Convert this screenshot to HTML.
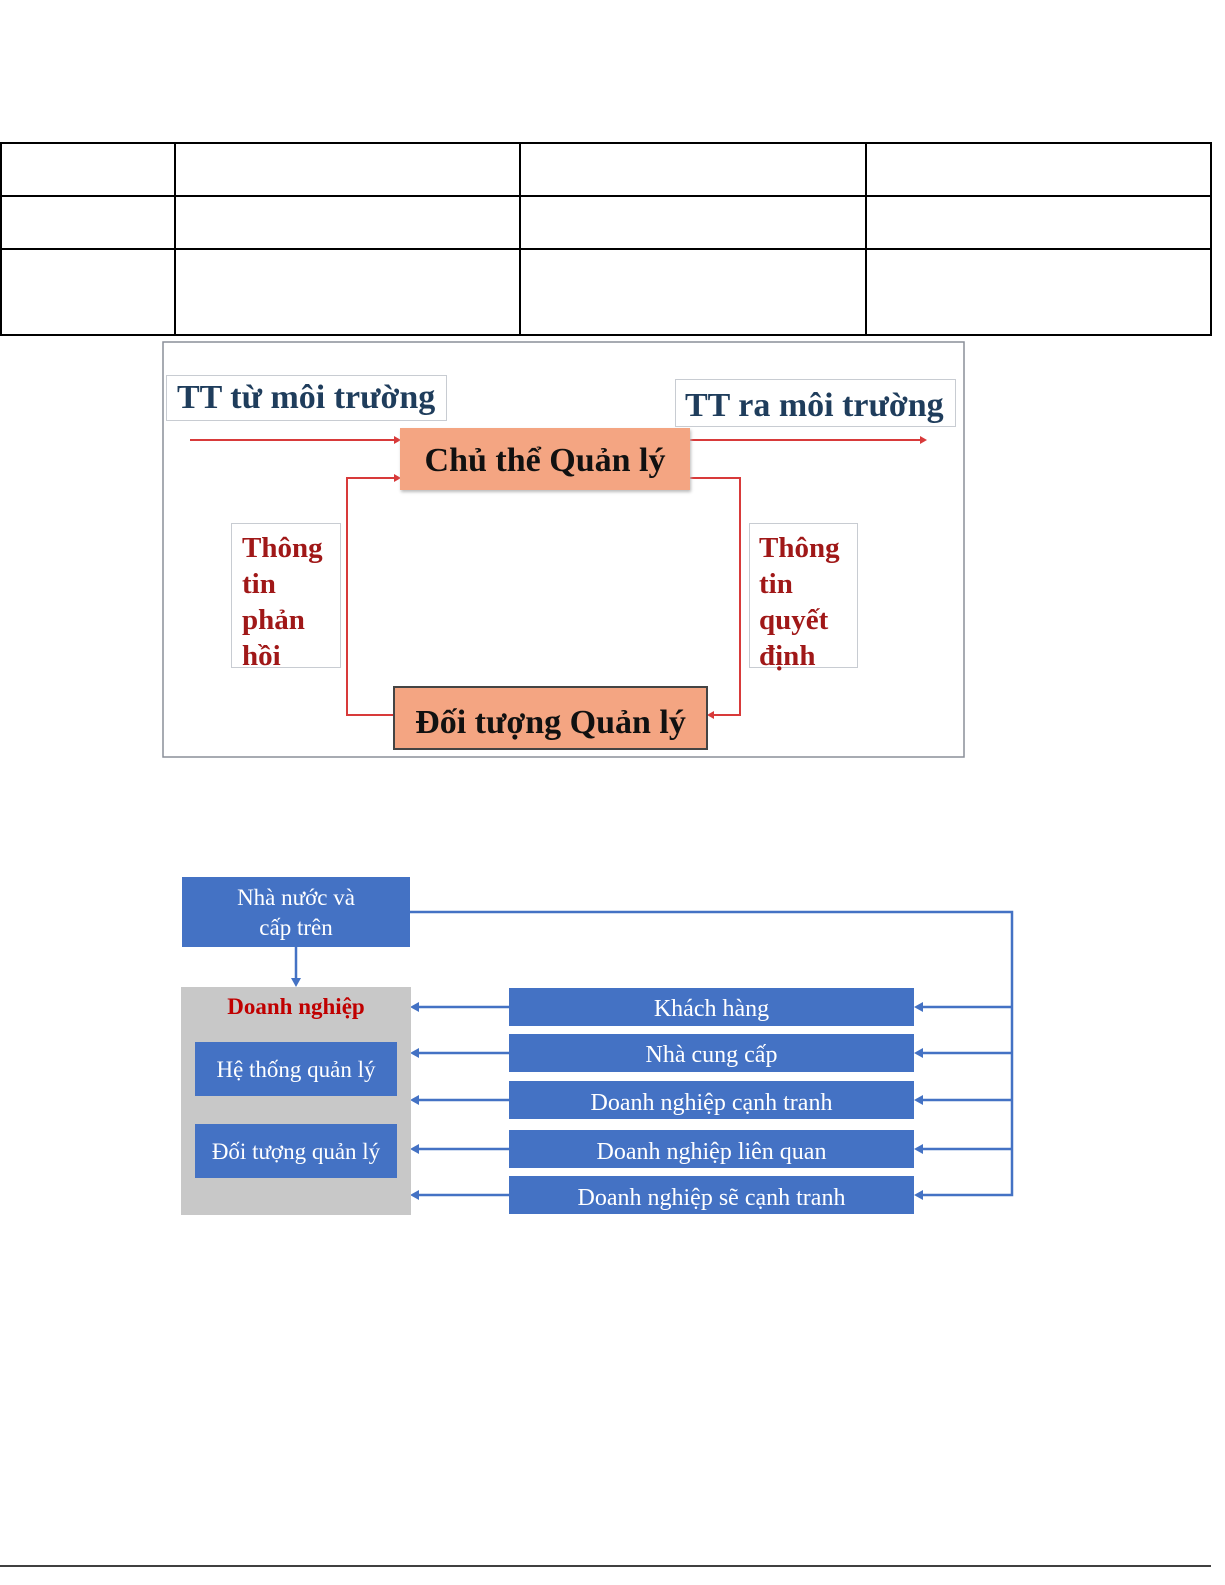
<!DOCTYPE html>
<html><head><meta charset="utf-8"><style>
body{margin:0;background:#fff;width:1225px;height:1585px;position:relative;overflow:hidden;font-family:"Liberation Serif",serif}
.a{position:absolute;box-sizing:border-box}
</style></head><body>
<svg class="a" style="left:0;top:0" width="1225" height="1585">
<g stroke="#000" stroke-width="2" fill="none">
<rect x="1" y="143" width="1210" height="192"/>
<line x1="0" y1="196" x2="1211" y2="196"/><line x1="0" y1="249" x2="1211" y2="249"/>
<line x1="175" y1="143" x2="175" y2="335"/><line x1="520" y1="143" x2="520" y2="335"/><line x1="866" y1="143" x2="866" y2="335"/>
<line x1="0" y1="1566" x2="1211" y2="1566" stroke-width="1.5"/>
</g>
<rect x="163" y="342" width="801" height="415" fill="#fff" stroke="#8a8f99" stroke-width="1.5"/>
<g fill="none" stroke="#d83a3a" stroke-width="2">
<line x1="190" y1="440" x2="396" y2="440"/><line x1="690" y1="440" x2="922" y2="440"/>
<polyline points="396,478 347,478 347,715 395,715"/>
<polyline points="690,478 740,478 740,715 712,715"/>
</g>
<g fill="#d83a3a"><path d="M401,440 l-7,-4 v8z"/><path d="M927,440 l-7,-4 v8z"/><path d="M401,478 l-7,-4 v8z"/><path d="M707,715 l7,-4 v8z"/></g>
<g fill="none" stroke="#4472c4" stroke-width="2.5">
<polyline points="410,912 1012,912 1012,1195 918,1195"/>
<line x1="296" y1="947" x2="296" y2="980"/>
<line x1="1012" y1="1007" x2="918" y2="1007"/><line x1="1012" y1="1053" x2="918" y2="1053"/><line x1="1012" y1="1100" x2="918" y2="1100"/><line x1="1012" y1="1149" x2="918" y2="1149"/>
<line x1="416" y1="1007" x2="509" y2="1007"/><line x1="416" y1="1053" x2="509" y2="1053"/><line x1="416" y1="1100" x2="509" y2="1100"/><line x1="416" y1="1149" x2="509" y2="1149"/><line x1="416" y1="1195" x2="509" y2="1195"/>
</g>
<g fill="#4472c4"><path d="M296,987 l-5,-9 h10z"/>
<path d="M410,1007 l9,-5 v10z"/><path d="M410,1053 l9,-5 v10z"/><path d="M410,1100 l9,-5 v10z"/><path d="M410,1149 l9,-5 v10z"/><path d="M410,1195 l9,-5 v10z"/>
<path d="M914,1007 l9,-5 v10z"/><path d="M914,1053 l9,-5 v10z"/><path d="M914,1100 l9,-5 v10z"/><path d="M914,1149 l9,-5 v10z"/><path d="M914,1195 l9,-5 v10z"/></g>
</svg>
<div class="a" style="left:166px;top:375px;width:281px;height:46px;border:1px solid #c8ccd2;color:#1f3d5c;font-weight:bold;font-size:34px;line-height:44px;padding-left:10px;white-space:nowrap">TT từ môi trường</div>
<div class="a" style="left:675px;top:379px;width:281px;height:48px;border:1px solid #c8ccd2;color:#1f3d5c;font-weight:bold;font-size:34px;line-height:52px;padding-left:9px;white-space:nowrap">TT ra môi trường</div>
<div class="a" style="left:400px;top:428px;width:290px;height:62px;background:#f4a582;color:#111;font-weight:bold;font-size:34px;line-height:66px;text-align:center;box-shadow:1px 2px 3px #bbb;white-space:nowrap">Chủ thể Quản lý</div>
<div class="a" style="left:393px;top:686px;width:315px;height:64px;border:2px solid #444;background:#f4a582;color:#111;font-weight:bold;font-size:34px;line-height:70px;text-align:center;white-space:nowrap">Đối tượng Quản lý</div>
<div class="a" style="left:231px;top:523px;width:110px;height:145px;border:1px solid #c8ccd2;color:#a01818;font-weight:bold;font-size:29px;line-height:36px;padding:6px 0 0 10px">Thông<br>tin<br>phản<br>hồi</div>
<div class="a" style="left:749px;top:523px;width:109px;height:145px;border:1px solid #c8ccd2;color:#a01818;font-weight:bold;font-size:29px;line-height:36px;padding:6px 0 0 9px">Thông<br>tin<br>quyết<br>định</div>
<div class="a" style="left:182px;top:877px;width:228px;height:70px;background:#4472c4;color:#fff;font-size:23px;line-height:30px;text-align:center;padding-top:6px">Nhà nước và<br>cấp trên</div>
<div class="a" style="left:181px;top:987px;width:230px;height:228px;background:#c8c8c8"></div>
<div class="a" style="left:181px;top:992px;width:230px;color:#c00000;font-weight:bold;font-size:23px;text-align:center;line-height:30px">Doanh nghiệp</div>
<div class="a" style="left:195px;top:1042px;width:202px;height:54px;background:#4472c4;color:#fff;font-size:23px;line-height:56px;text-align:center;white-space:nowrap">Hệ thống quản lý</div>
<div class="a" style="left:195px;top:1124px;width:202px;height:54px;background:#4472c4;color:#fff;font-size:23px;line-height:56px;text-align:center;white-space:nowrap">Đối tượng quản lý</div>
<div class="a" style="left:509px;top:988px;width:405px;height:38px;background:#4472c4;color:#fff;font-size:24px;line-height:42px;text-align:center">Khách hàng</div>
<div class="a" style="left:509px;top:1034px;width:405px;height:38px;background:#4472c4;color:#fff;font-size:24px;line-height:42px;text-align:center">Nhà cung cấp</div>
<div class="a" style="left:509px;top:1081px;width:405px;height:38px;background:#4472c4;color:#fff;font-size:24px;line-height:44px;text-align:center">Doanh nghiệp cạnh tranh</div>
<div class="a" style="left:509px;top:1130px;width:405px;height:38px;background:#4472c4;color:#fff;font-size:24px;line-height:44px;text-align:center">Doanh nghiệp liên quan</div>
<div class="a" style="left:509px;top:1176px;width:405px;height:38px;background:#4472c4;color:#fff;font-size:24px;line-height:44px;text-align:center">Doanh nghiệp sẽ cạnh tranh</div>
</body></html>
